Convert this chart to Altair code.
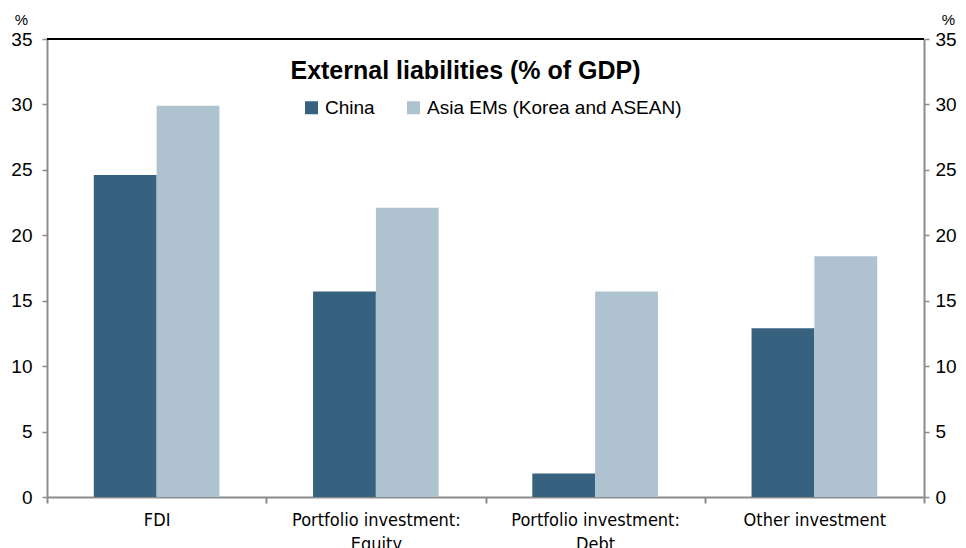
import altair as alt
import pandas as pd

categories = ["FDI", "Portfolio investment:\nEquity", "Portfolio investment:\nDebt", "Other investment"]
series = ["China", "Asia EMs (Korea and ASEAN)"]
china = [24.6, 15.7, 1.8, 12.9]
asia = [29.9, 22.1, 15.7, 18.4]
y_ticks = [0, 5, 10, 15, 20, 25, 30, 35]
colors = ["#366280", "#AFC2CF"]
title_text = "External liabilities (% of GDP)"

rows = []
for cat, c, a in zip(categories, china, asia):
    rows.append({"category": cat, "series": series[0], "value": c})
    rows.append({"category": cat, "series": series[1], "value": a})
df = pd.DataFrame(rows)

FONT = "Liberation Sans"
NARROW = "DejaVu Sans Condensed, Liberation Sans"
GRAY = "#8c8c8c"

yscale = alt.Scale(domain=[0, 35], nice=False, zero=True)


def y_axis(orient, title_x, pad):
    return alt.Axis(
        orient=orient,
        values=y_ticks,
        title="%",
        titleAngle=0,
        titleX=title_x,
        titleY=-20,
        titleAlign="center",
        titleBaseline="middle",
        titleFont=FONT,
        titleFontSize=15,
        titleFontWeight="normal",
        labelFont=FONT,
        labelFontSize=19,
        labelPadding=pad,
        labelColor="black",
        domainColor=GRAY,
        domainWidth=2,
        tickColor=GRAY,
        tickWidth=1.5,
        tickSize=5,
        grid=False,
    )


bars = alt.Chart(df).mark_bar().encode(
    x=alt.X(
        "category:N",
        sort=categories,
        scale=alt.Scale(paddingInner=0, paddingOuter=0),
        axis=alt.Axis(
            title=None,
            labelAngle=0,
            tickBand="extent",
            labelExpr="split(datum.label, '\\n')",
            labelFont=NARROW,
            labelFontSize=18,
            labelLineHeight=24,
            labelPadding=8,
            labelColor="black",
            domainColor=GRAY,
            domainWidth=2,
            tickColor=GRAY,
            tickWidth=2,
            tickSize=6,
        ),
    ),
    xOffset=alt.XOffset("series:N", sort=series, scale=alt.Scale(paddingInner=0, paddingOuter=0.745)),
    y=alt.Y("value:Q", scale=yscale, axis=y_axis("left", -26, 10)),
    color=alt.Color(
        "series:N",
        sort=series,
        scale=alt.Scale(domain=series, range=colors),
        legend=alt.Legend(
            title=None,
            orient="none",
            legendX=255,
            legendY=59,
            direction="horizontal",
            symbolType="square",
            symbolSize=169,
            symbolStrokeWidth=0,
            labelFont=FONT,
            labelFontSize=19,
            labelOffset=4,
            columnPadding=29,
            labelLimit=400,
            padding=0,
        ),
    ),
)

top_line = alt.Chart(df).mark_rule(color="black", strokeWidth=2).encode(
    y=alt.Y(datum=35, type="quantitative", scale=yscale, axis=y_axis("right", 24, 6))
)

chart = (
    alt.layer(bars, top_line)
    .resolve_axis(y="independent")
    .properties(
        width=877,
        height=458,
        padding={"left": 2, "top": 4, "right": 0, "bottom": 0},
        title=alt.TitleParams(
            title_text,
            font=FONT,
            fontSize=25,
            fontWeight="bold",
            color="black",
            anchor="middle",
            frame="group",
            dx=-20,
            dy=76,
        ),
    )
    .configure_view(stroke=None)
)

chart.save("out.html", embed_options={"renderer": "svg", "actions": False})
